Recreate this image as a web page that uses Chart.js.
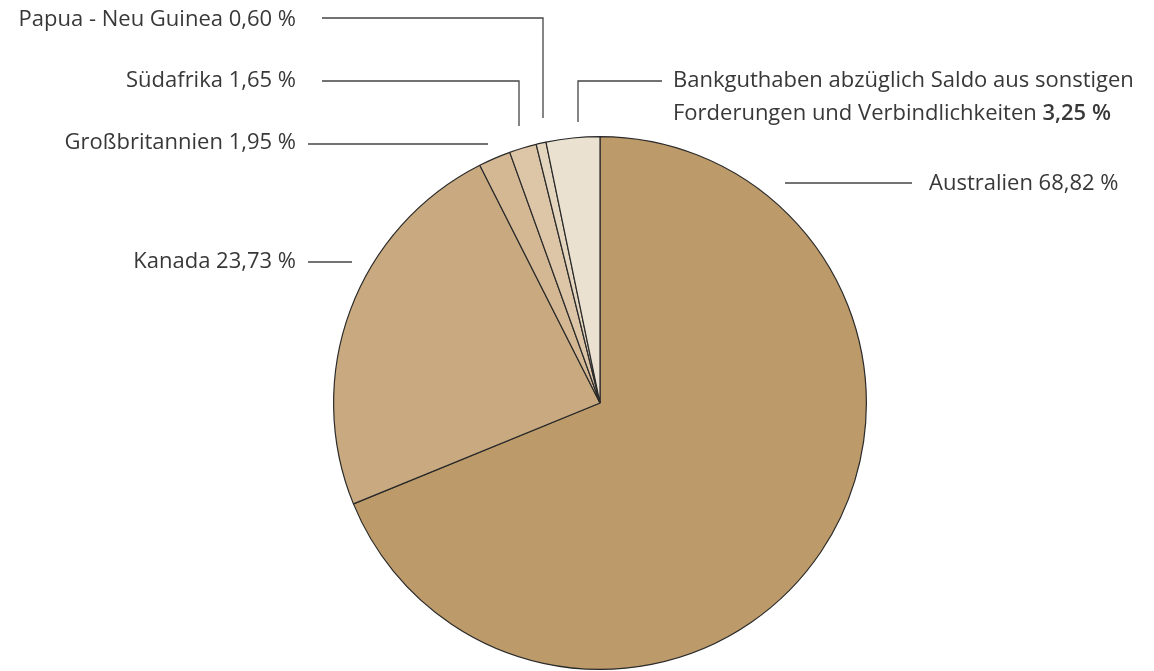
<!DOCTYPE html>
<html>
<head>
<meta charset="utf-8">
<script src="https://cdn.jsdelivr.net/npm/chart.js@4/dist/chart.umd.min.js"></script>
<style>
  html, body { margin: 0; padding: 0; background: #fff; }
  #wrap { width: 1154px; height: 671px; position: relative; }
</style>
</head>
<body>
<div id="wrap"><canvas id="pie"></canvas></div>
<script>
// values, clockwise from 12 o'clock
var categories = ['Australien', 'Kanada', 'Großbritannien', 'Südafrika', 'Papua - Neu Guinea',
                  'Bankguthaben abzüglich Saldo aus sonstigen Forderungen und Verbindlichkeiten'];
var shares = [68.82, 23.73, 1.95, 1.65, 0.60, 3.25];
var colors = ['#bc9a69', '#c9aa80', '#d4b894', '#ddc6a7', '#e4d5bf', '#eae1d0'];

var fontFamily = '"Open Sans", "DejaVu Sans", sans-serif';
var textColor = '#383838';

function fmt(v) {
    return v.toFixed(2).replace('.', ',') + ' %';
}

// labels and leader lines
var labelPlugin = {
    id: 'leaderLabels',
    afterDraw: function(chart) {
        var ctx = chart.ctx;
        ctx.save();
        ctx.font = '400 22px ' + fontFamily;
        ctx.fillStyle = textColor;
        ctx.textBaseline = 'middle';

        // left side labels, right aligned
        ctx.textAlign = 'right';
        ctx.fillText(categories[4] + ' ' + fmt(shares[4]), 296, 20);
        ctx.fillText(categories[3] + ' ' + fmt(shares[3]), 296, 81);
        ctx.fillText(categories[2] + ' ' + fmt(shares[2]), 296, 143);
        ctx.fillText(categories[1] + ' ' + fmt(shares[1]), 296, 262);

        // right side
        ctx.textAlign = 'left';
        ctx.fillText(categories[0] + ' ' + fmt(shares[0]), 929, 184);
        ctx.fillText('Bankguthaben abzüglich Saldo aus sonstigen', 673, 81);
        var line2 = 'Forderungen und Verbindlichkeiten ';
        ctx.fillText(line2, 673, 114);
        var w = ctx.measureText(line2).width;
        ctx.font = '600 22px ' + fontFamily;
        ctx.fillText(fmt(shares[5]), 673 + w, 114);

        // leader lines
        ctx.strokeStyle = '#444';
        ctx.lineWidth = 1.3;
        var segs = [
            [[322, 18], [543, 18], [543, 118]],
            [[322, 81], [519, 81], [519, 126]],
            [[308, 144], [488, 144]],
            [[308, 262], [352, 262]],
            [[785, 183], [912, 183]],
            [[662, 81], [578, 81], [578, 122]]
        ];
        segs.forEach(function(s) {
            ctx.beginPath();
            ctx.moveTo(s[0][0], s[0][1]);
            for (var i = 1; i < s.length; i++) ctx.lineTo(s[i][0], s[i][1]);
            ctx.stroke();
        });
        ctx.restore();
    }
};

var ctx = document.getElementById('pie').getContext('2d');
ctx.canvas.width = 1154;
ctx.canvas.height = 671;

var myPieChart = new Chart(ctx, {
    type: 'pie',
    data: {
        labels: categories,
        datasets: [{
            data: shares,
            backgroundColor: colors,
            borderColor: '#2a2a2a',
            borderWidth: 1.2
        }]
    },
    options: {
        responsive: false,
        animation: false,
        layout: { padding: { left: 333, right: 287, top: 136, bottom: 1 } },
        plugins: {
            legend: { display: false },
            tooltip: { enabled: false }
        }
    },
    plugins: [labelPlugin]
});
</script>
</body>
</html>
